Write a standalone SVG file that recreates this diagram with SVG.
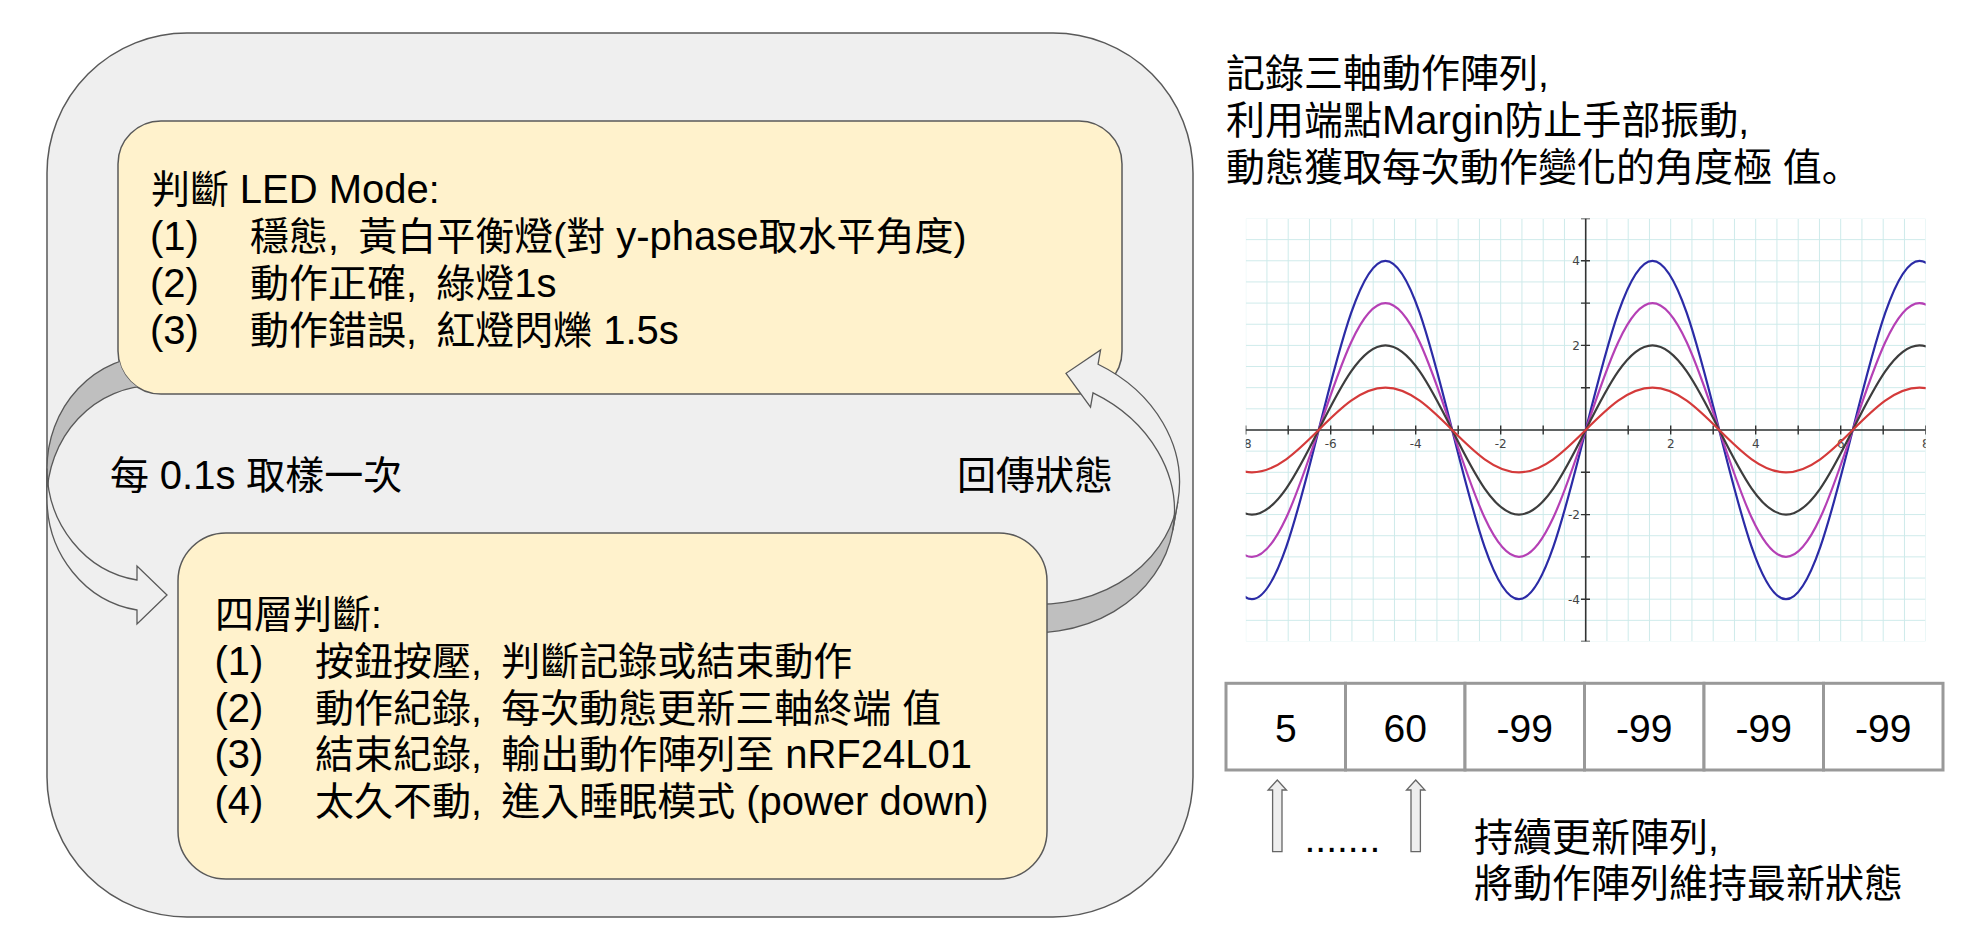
<svg xmlns="http://www.w3.org/2000/svg" width="1976" height="950" viewBox="0 0 1976 950">
<defs>
<style>
.t{font-family:'Liberation Sans','Noto Sans CJK TC',sans-serif;font-size:39px;fill:#000}
.l{font-size:40px}
.box{stroke:#595959;stroke-width:1.5}
.arr{stroke:#595959;stroke-width:1.3;stroke-linejoin:miter}
.front{fill:#efefef}
.back{fill:#bfbfbf}
.cell{fill:#fff;stroke:#999;stroke-width:3}
.num{font-family:'Liberation Sans',sans-serif;font-size:39px;text-anchor:middle;fill:#000}
.gl{font-family:'DejaVu Sans',sans-serif;font-size:12px;fill:#444}
.crv{fill:none;stroke-width:2.2}
.up{fill:#eeeeee;stroke:#666;stroke-width:1.3}
</style>
<clipPath id="noTop"><path clip-rule="evenodd" d="M0,0H1976V950H0Z M161,121H1079A43,43 0 0 1 1122,164V351A43,43 0 0 1 1079,394H161A43,43 0 0 1 118,351V164A43,43 0 0 1 161,121Z"/></clipPath>
<clipPath id="plot"><rect x="1245.7" y="218.5" width="680" height="423"/></clipPath>
<pattern id="grid" x="1245.2" y="218" width="21.25" height="21.15" patternUnits="userSpaceOnUse"><path d="M0.5,0V21.15M0,0.5H21.25" stroke="#cdeaea" stroke-width="1" fill="none"/></pattern>
</defs>
<rect width="1976" height="950" fill="#fff"/>

<g id="loop-frame">
<rect x="47" y="33" width="1146" height="884" rx="140" fill="#efefef" class="box"/>
</g>

<g id="led-mode">
<rect x="118" y="121" width="1004" height="273" rx="43" fill="#fff2cc" class="box"/>
<text class="t" x="151" y="203">判斷 <tspan class="l">LED Mode</tspan>:</text>
<text class="t" y="250"><tspan x="150" class="l">(1)</tspan><tspan x="250">穩態,&#8194;黃白平衡燈(對 <tspan class="l">y-phase</tspan>取水平角度)</tspan></text>
<text class="t" y="296.8"><tspan x="150" class="l">(2)</tspan><tspan x="250">動作正確,&#8194;綠燈<tspan class="l">1s</tspan></tspan></text>
<text class="t" y="343.5"><tspan x="150" class="l">(3)</tspan><tspan x="250">動作錯誤,&#8194;紅燈閃爍 <tspan class="l">1.5s</tspan></tspan></text>
</g>

<g id="connectors">
<g id="arrow-sample" clip-path="url(#noTop)">
<path class="arr back" d="M47,468.5 A106,112.8 0 0 1 153,355.7 L153,385.7 A106,112.8 0 0 0 47,498.5 Z"/>
<path class="arr front" d="M47,468.5 A106,112.8 0 0 0 137,580 L137,566 L167,595 L137,624 L137,610 A106,112.8 0 0 1 47,498.5 Z"/>
</g>
<g id="arrow-return" transform="translate(1027.6,489.8) rotate(10)">
<path class="arr back" d="M150,-14.5 A150,128 0 0 1 0,113.5 L0,142.5 A150,128 0 0 0 150,14.5 Z"/>
<path class="arr front" d="M150,-14.5 A150,128 0 0 0 47.6,-135.88 L47.6,-150.38 L17.6,-121.38 L47.6,-92.38 L47.6,-106.88 A150,128 0 0 1 150,14.5 Z"/>
</g>
<path class="up" d="M1277.3,780 L1286.5,790 L1282,790 L1282,851.7 L1272.6,851.7 L1272.6,790 L1268.1,790 Z"/>
<path class="up" d="M1415.7,780 L1424.9,790 L1420.4,790 L1420.4,851.7 L1411,851.7 L1411,790 L1406.5,790 Z"/>
</g>

<g id="four-layer">
<rect x="178" y="533" width="869" height="346" rx="48" fill="#fff2cc" class="box"/>
<text class="t" x="215" y="628">四層判斷:</text>
<text class="t" y="675"><tspan x="214.5" class="l">(1)</tspan><tspan x="315">按鈕按壓,&#8194;判斷記錄或結束動作</tspan></text>
<text class="t" y="721.7"><tspan x="214.5" class="l">(2)</tspan><tspan x="315">動作紀錄,&#8194;每次動態更新三軸終端 值</tspan></text>
<text class="t" y="768.3"><tspan x="214.5" class="l">(3)</tspan><tspan x="315">結束紀錄,&#8194;輸出動作陣列至 <tspan class="l">nRF24L01</tspan></tspan></text>
<text class="t" y="815"><tspan x="214.5" class="l">(4)</tspan><tspan x="315">太久不動,&#8194;進入睡眠模式 <tspan class="l">(power down)</tspan></tspan></text>
</g>

<g id="labels">
<text class="t" x="110" y="489">每 <tspan class="l">0.1s</tspan> 取樣一次</text>
<text class="t" x="957" y="489">回傳狀態</text>
</g>

<g id="note-top">
<text class="t" x="1226" y="87">記錄三軸動作陣列,</text>
<text class="t" x="1226" y="134">利用端點<tspan class="l">Margin</tspan>防止手部振動,</text>
<text class="t" x="1226" y="180.5">動態獲取每次動作變化的角度極 值<tspan font-family="'Noto Sans CJK JP',sans-serif">。</tspan></text>
</g>

<g id="chart">
<g clip-path="url(#plot)">
<rect x="1245.7" y="218.5" width="680" height="423" fill="#fff"/>
<rect x="1245.7" y="218.5" width="680" height="423" fill="url(#grid)"/>
<path d="M1245.7,430H1925.7M1585.7,218.5V641.5" stroke="#333" stroke-width="1.6" fill="none"/>
<path d="M1245.7,425.5v9M1288.2,425.5v9M1330.7,425.5v9M1373.2,425.5v9M1415.7,425.5v9M1458.2,425.5v9M1500.7,425.5v9M1543.2,425.5v9M1628.2,425.5v9M1670.7,425.5v9M1713.2,425.5v9M1755.7,425.5v9M1798.2,425.5v9M1840.7,425.5v9M1883.2,425.5v9M1925.7,425.5v9 M1581,218.5h9M1581,260.8h9M1581,303.1h9M1581,345.4h9M1581,387.7h9M1581,472.3h9M1581,514.6h9M1581,556.9h9M1581,599.2h9M1581,641.5h9" stroke="#333" stroke-width="1.4" fill="none"/>
<g class="gl" text-anchor="middle">
<text x="1245.7" y="448">-8</text><text x="1330.7" y="448">-6</text><text x="1415.7" y="448">-4</text><text x="1500.7" y="448">-2</text>
<text x="1670.7" y="448">2</text><text x="1755.7" y="448">4</text><text x="1840.7" y="448">6</text><text x="1925.7" y="448">8</text>
</g>
<g class="gl" text-anchor="end">
<text x="1580" y="265">4</text><text x="1580" y="349.5">2</text><text x="1580" y="519">-2</text><text x="1580" y="603.5">-4</text>
</g>
<path class="crv" stroke="#2b2ba6" vector-effect="non-scaling-stroke" transform="translate(1585.7,430) scale(42.5,-169.2)" d="M-12.5664,0 c0.5123,0.5123 1.0023,1 1.5708,1 c0.5685,0 1.0585,-0.4877 1.5708,-1 c0.5123,-0.5123 1.0023,-1 1.5708,-1 c0.5685,0 1.0585,0.4877 1.5708,1 c0.5123,0.5123 1.0023,1 1.5708,1 c0.5685,0 1.0585,-0.4877 1.5708,-1 c0.5123,-0.5123 1.0023,-1 1.5708,-1 c0.5685,0 1.0585,0.4877 1.5708,1 c0.5123,0.5123 1.0023,1 1.5708,1 c0.5685,0 1.0585,-0.4877 1.5708,-1 c0.5123,-0.5123 1.0023,-1 1.5708,-1 c0.5685,0 1.0585,0.4877 1.5708,1 c0.5123,0.5123 1.0023,1 1.5708,1 c0.5685,0 1.0585,-0.4877 1.5708,-1 c0.5123,-0.5123 1.0023,-1 1.5708,-1 c0.5685,0 1.0585,0.4877 1.5708,1"/>
<path class="crv" stroke="#b540b5" vector-effect="non-scaling-stroke" transform="translate(1585.7,430) scale(42.5,-126.9)" d="M-12.5664,0 c0.5123,0.5123 1.0023,1 1.5708,1 c0.5685,0 1.0585,-0.4877 1.5708,-1 c0.5123,-0.5123 1.0023,-1 1.5708,-1 c0.5685,0 1.0585,0.4877 1.5708,1 c0.5123,0.5123 1.0023,1 1.5708,1 c0.5685,0 1.0585,-0.4877 1.5708,-1 c0.5123,-0.5123 1.0023,-1 1.5708,-1 c0.5685,0 1.0585,0.4877 1.5708,1 c0.5123,0.5123 1.0023,1 1.5708,1 c0.5685,0 1.0585,-0.4877 1.5708,-1 c0.5123,-0.5123 1.0023,-1 1.5708,-1 c0.5685,0 1.0585,0.4877 1.5708,1 c0.5123,0.5123 1.0023,1 1.5708,1 c0.5685,0 1.0585,-0.4877 1.5708,-1 c0.5123,-0.5123 1.0023,-1 1.5708,-1 c0.5685,0 1.0585,0.4877 1.5708,1"/>
<path class="crv" stroke="#3d3d3d" vector-effect="non-scaling-stroke" transform="translate(1585.7,430) scale(42.5,-84.6)" d="M-12.5664,0 c0.5123,0.5123 1.0023,1 1.5708,1 c0.5685,0 1.0585,-0.4877 1.5708,-1 c0.5123,-0.5123 1.0023,-1 1.5708,-1 c0.5685,0 1.0585,0.4877 1.5708,1 c0.5123,0.5123 1.0023,1 1.5708,1 c0.5685,0 1.0585,-0.4877 1.5708,-1 c0.5123,-0.5123 1.0023,-1 1.5708,-1 c0.5685,0 1.0585,0.4877 1.5708,1 c0.5123,0.5123 1.0023,1 1.5708,1 c0.5685,0 1.0585,-0.4877 1.5708,-1 c0.5123,-0.5123 1.0023,-1 1.5708,-1 c0.5685,0 1.0585,0.4877 1.5708,1 c0.5123,0.5123 1.0023,1 1.5708,1 c0.5685,0 1.0585,-0.4877 1.5708,-1 c0.5123,-0.5123 1.0023,-1 1.5708,-1 c0.5685,0 1.0585,0.4877 1.5708,1"/>
<path class="crv" stroke="#d43a3a" vector-effect="non-scaling-stroke" transform="translate(1585.7,430) scale(42.5,-42.3)" d="M-12.5664,0 c0.5123,0.5123 1.0023,1 1.5708,1 c0.5685,0 1.0585,-0.4877 1.5708,-1 c0.5123,-0.5123 1.0023,-1 1.5708,-1 c0.5685,0 1.0585,0.4877 1.5708,1 c0.5123,0.5123 1.0023,1 1.5708,1 c0.5685,0 1.0585,-0.4877 1.5708,-1 c0.5123,-0.5123 1.0023,-1 1.5708,-1 c0.5685,0 1.0585,0.4877 1.5708,1 c0.5123,0.5123 1.0023,1 1.5708,1 c0.5685,0 1.0585,-0.4877 1.5708,-1 c0.5123,-0.5123 1.0023,-1 1.5708,-1 c0.5685,0 1.0585,0.4877 1.5708,1 c0.5123,0.5123 1.0023,1 1.5708,1 c0.5685,0 1.0585,-0.4877 1.5708,-1 c0.5123,-0.5123 1.0023,-1 1.5708,-1 c0.5685,0 1.0585,0.4877 1.5708,1"/>
</g>
</g>

<g id="array">
<rect class="cell" x="1226" y="683.3" width="119.5" height="86.7"/>
<rect class="cell" x="1345.5" y="683.3" width="119.5" height="86.7"/>
<rect class="cell" x="1465" y="683.3" width="119.5" height="86.7"/>
<rect class="cell" x="1584.5" y="683.3" width="119.5" height="86.7"/>
<rect class="cell" x="1704" y="683.3" width="119.5" height="86.7"/>
<rect class="cell" x="1823.5" y="683.3" width="119.5" height="86.7"/>
<text class="num" x="1285.8" y="741.5">5</text>
<text class="num" x="1405.3" y="741.5">60</text>
<text class="num" x="1524.8" y="741.5">-99</text>
<text class="num" x="1644.3" y="741.5">-99</text>
<text class="num" x="1763.8" y="741.5">-99</text>
<text class="num" x="1883.3" y="741.5">-99</text>
</g>

<g id="note-bottom">
<text class="t" x="1304.5" y="851.5">.......</text>
<text class="t" x="1474" y="850.5">持續更新陣列,</text>
<text class="t" x="1474" y="897">將動作陣列維持最新狀態</text>
</g>
</svg>
